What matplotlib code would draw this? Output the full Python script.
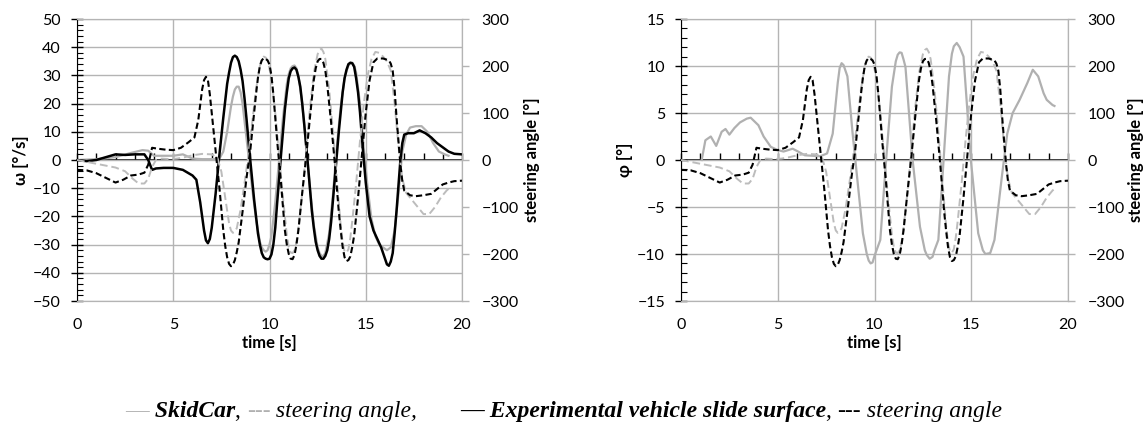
import matplotlib
matplotlib.use("Agg")
import matplotlib.pyplot as plt
import numpy as np
from matplotlib.ticker import MultipleLocator

plt.rcParams['font.family'] = ['Lato', 'DejaVu Sans']

# ---- data ----
# experimental vehicle yaw rate [deg/s]
t_exp_w = [0, 0.5, 1.0, 1.5, 2.0, 2.5, 3.0, 3.5, 3.7, 3.9, 4.1, 4.5, 5.0, 5.5, 6.0, 6.2, 6.4, 6.6,
           6.7, 6.8, 6.9, 7.0, 7.2, 7.4, 7.6, 7.8, 7.9, 8.0, 8.1, 8.2, 8.3, 8.4, 8.5, 8.6, 8.7,
           8.8, 8.9, 9.0, 9.2, 9.3, 9.4, 9.5, 9.6, 9.7, 9.8, 9.9, 10.0, 10.1, 10.2, 10.3, 10.4,
           10.6, 10.7, 10.8, 10.9, 11.0, 11.1, 11.2, 11.3, 11.4, 11.5, 11.6, 11.7, 11.8, 11.9,
           12.0, 12.1, 12.2, 12.3, 12.4, 12.5, 12.6, 12.7, 12.8, 12.9, 13.0, 13.1, 13.2, 13.3,
           13.4, 13.5, 13.6, 13.7, 13.8, 13.9, 14.0, 14.1, 14.2, 14.3, 14.4, 14.5, 14.6, 14.7,
           14.8, 14.9, 15.0, 15.2, 15.4, 15.6, 15.8, 16.0, 16.1, 16.2, 16.3, 16.4, 16.5, 16.6,
           16.7, 16.8, 16.9, 17.0, 17.2, 17.5, 17.8, 18.1, 18.4, 18.7, 19.0, 19.3, 19.6, 20.0]
exp_w = [0, -0.4, 0, 1, 2, 1.8, 2, 2, 0, -3.5, -3, -2.8, -2.8, -3.5, -5.5, -7, -15, -25,
         -28.5, -29.5, -28, -24, -12, 2, 15, 27, 31, 34.5, 36.5, 37, 36.5, 35, 32, 28, 22,
         15, 7.5, 0, -14, -20, -26, -30, -33, -34.5, -35, -35.2, -35, -33.5, -30, -24, -15,
         2, 10, 18, 24, 29, 31.5, 32.5, 32.8, 32, 29.5, 26, 20, 13, 5.5,
         -2, -10, -18, -24, -29, -32, -34, -35, -35, -34, -32, -28, -22, -14,
         -6, 2, 10, 17, 24, 29, 32, 34, 34.5, 34.3, 33, 29, 24, 17,
         8, 0, -8, -20, -25, -28, -31, -35, -37, -37.5, -36, -33, -26, -18,
         -9, 0, 6, 9, 9.5, 9.5, 10.5, 9.5, 8, 6, 4.5, 3, 2.2, 2]

# SkidCar yaw rate [deg/s]
t_skid_w = [0, 1.0, 2.0, 2.8, 3.4, 3.7, 4.0, 4.5, 5.0, 5.5, 6.0, 6.5, 7.0, 7.4, 7.6, 7.8, 8.0,
            8.1, 8.2, 8.3, 8.4, 8.5, 8.6, 8.7, 8.9, 9.1, 9.3, 9.5, 9.6, 9.7, 9.8, 9.9, 10.0,
            10.1, 10.3, 10.5, 10.7, 10.9, 11.0, 11.1, 11.2, 11.3, 11.4, 11.5, 11.7, 11.9,
            12.1, 12.3, 12.5, 12.6, 12.7, 12.8, 12.9, 13.1, 13.3, 13.5, 13.7, 13.9, 14.0,
            14.1, 14.2, 14.3, 14.4, 14.5, 14.7, 14.9, 15.1, 15.3, 15.5, 15.7, 15.9, 16.1,
            16.3, 16.5, 16.7, 16.9, 17.1, 17.3, 17.6, 17.9, 18.2, 18.5, 18.8, 19.1, 19.3]
skid_w = [0, 0.3, 1, 2.5, 3.5, 3.3, 1.5, 1.5, 1.5, 2, 0.5, 0.3, 0.3, 0.5, 3, 10, 19,
          22.5, 25, 26, 26, 24, 20, 14, 2, -10, -21, -29, -31, -32, -32.5, -32, -30,
          -27, -15, 0, 15, 27, 30.5, 32.5, 33.3, 33.5, 32.5, 30, 20, 5,
          -10, -23, -31, -33, -34, -34, -33, -26, -12, 5, 19, 29, 31.5,
          33.5, 34.3, 34.5, 33.5, 31, 20, 4, -10, -21, -27, -30, -31, -32,
          -31, -25, -12, 3, 9, 11.5, 12, 12, 10, 6, 3, 2, 1.5]

# SkidCar roll angle [deg]
t_skid_phi = [1.07, 1.26, 1.54, 1.82, 2.1, 2.3, 2.5, 2.76, 3.05, 3.4, 3.6, 4.0, 4.27, 4.64, 5.0,
              5.3, 5.77, 6.05, 6.4, 7.2, 7.55, 7.84, 8.1, 8.2, 8.3, 8.4, 8.6, 8.87, 9.15, 9.4,
              9.6, 9.7, 9.8, 9.9, 10.0, 10.3, 10.6, 10.9, 11.1, 11.2, 11.3, 11.4, 11.5, 11.6,
              11.97, 12.35, 12.6, 12.7, 12.85, 13.0, 13.1, 13.3, 13.57, 13.85, 14.0, 14.1,
              14.25, 14.4, 14.6, 14.98, 15.36, 15.6, 15.73, 15.98, 16.2, 16.58, 16.86, 17.14,
              17.5, 17.9, 18.18, 18.46, 18.74, 18.9, 19.2, 19.3]
skid_phi = [0, 2.1, 2.5, 1.5, 3.0, 3.3, 2.7, 3.4, 4.0, 4.4, 4.5, 3.7, 2.5, 1.4, 1.06,
            0.9, 1.2, 0.9, 0.5, 0.4, 0.7, 2.8, 8.2, 9.8, 10.3, 10.1, 8.9, 2.8, -2.8, -7.8,
            -10.0, -10.7, -11, -10.9, -10.2, -8.5, 0, 7.8, 10.5, 11.2, 11.45, 11.4, 10.7, 9.9,
            0, -7.1, -9.6, -10.1, -10.5, -10.3, -9.6, -8.5, 0, 8.9, 11.3, 12.1,
            12.45, 12.0, 11, 0, -7.8, -9.6, -10, -9.9, -8.5, -1.8, 2.8, 5.0,
            6.4, 8.2, 9.6, 8.9, 7.1, 6.4, 5.85, 5.75]

# steering angle, experimental vehicle [deg]
t_steer_exp = [0, 0.5, 1.0, 1.5, 2.0, 2.4, 2.8, 3.2, 3.5, 3.7, 3.9, 4.2, 4.6, 5.0, 5.4, 5.8, 6.1,
               6.3, 6.5, 6.6, 6.7, 6.8, 6.9, 7.0, 7.2, 7.4, 7.6, 7.7, 7.8, 7.9, 8.0, 8.1, 8.2,
               8.3, 8.4, 8.6, 8.8, 9.0, 9.2, 9.3, 9.4, 9.5, 9.6, 9.7, 9.8, 9.9, 10.0, 10.1, 10.2,
               10.4, 10.6, 10.8, 10.9, 11.0, 11.1, 11.2, 11.3, 11.4, 11.5, 11.7, 11.9, 12.1,
               12.3, 12.4, 12.5, 12.6, 12.7, 12.8, 12.9, 13.0, 13.2, 13.4, 13.6, 13.7, 13.8,
               13.9, 14.0, 14.1, 14.2, 14.3, 14.4, 14.6, 14.8, 15.0, 15.2, 15.4, 15.6, 15.9,
               16.2, 16.3, 16.4, 16.5, 16.6, 16.7, 16.8, 16.9, 17.0, 17.3, 17.6, 18.0, 18.4,
               18.7, 19.0, 19.3, 19.6, 20.0]
steer_exp = [-21, -22, -28, -38, -48, -42, -33, -31, -27, -10, 26, 24, 22, 21, 26, 38, 48,
             85, 150, 170, 177, 170, 140, 100, 20, -60, -150, -183, -207, -221, -226, -223, -213,
             -196, -175, -110, -40, 20, 100, 140, 175, 200, 212, 217, 215, 212, 203, 180, 140,
             40, -50, -150, -180, -200, -210, -211, -202, -180, -150, -70, 5, 90,
             170, 195, 210, 215, 215, 207, 190, 160, 80, -10, -110, -150, -185,
             -207, -215, -213, -205, -185, -160, -80, 10, 100, 170, 208, 216, 216,
             212, 205, 190, 150, 90, 40, -10, -45, -65, -75, -77, -75, -72,
             -62, -52, -48, -45, -44]

# steering angle, SkidCar [deg]
t_steer_skid = [0, 0.5, 1.0, 1.5, 2.0, 2.5, 2.9, 3.2, 3.5, 3.7, 3.9, 4.1, 4.4, 4.8, 5.2, 5.6, 6.0,
                6.5, 7.0, 7.3, 7.5, 7.7, 7.9, 8.0, 8.1, 8.2, 8.3, 8.5, 8.7, 8.9, 9.1, 9.3, 9.5,
                9.6, 9.7, 9.8, 9.9, 10.1, 10.3, 10.5, 10.7, 10.9, 11.0, 11.1, 11.2, 11.3, 11.4,
                11.5, 11.7, 11.9, 12.1, 12.3, 12.5, 12.6, 12.7, 12.8, 12.9, 13.1, 13.3, 13.5,
                13.7, 13.8, 13.9, 14.0, 14.1, 14.2, 14.3, 14.5, 14.7, 14.9, 15.1, 15.3, 15.5,
                15.7, 15.9, 16.1, 16.3, 16.5, 16.7, 16.9, 17.1, 17.4, 17.7, 18.0, 18.3, 18.6,
                18.9, 19.2, 19.4]
steer_skid = [0, -4, -8, -12, -16, -24, -40, -50, -50, -40, -15, 0, 3, 2, 3, 6, 10,
              13, 12, 4, -25, -80, -135, -150, -155, -152, -145, -105, -50, 10, 80, 150, 200,
              215, 220, 218, 212, 175, 100, 10, -80, -160, -185, -197, -198, -192, -175,
              -145, -70, 20, 110, 185, 225, 234, 237, 230, 215, 150, 60, -40,
              -140, -175, -195, -197, -190, -165, -130, -50, 40, 120, 180, 215, 230,
              228, 220, 210, 190, 120, 30, -40, -70, -85, -100, -115, -115, -100,
              -80, -65, -58]

GRAY = '#b0b0b0'
GRAY_D = '#bcbcbc'
GRID = '#b4b4b4'
W, H = 1143, 423

fig = plt.figure(figsize=(W / 100, H / 100), dpi=100)


def make_panel(left_px, width_px, ylim, ystep, yminor, ylabel, right_lab):
    ax = fig.add_axes([left_px / W, 1 - 301 / H, width_px / W, 282 / H])
    ax.set_xlim(0, 20)
    ax.set_ylim(-ylim, ylim)
    ax.set_xticks(np.arange(0, 21, 5))
    ax.set_yticks(np.arange(-ylim, ylim + 1, ystep))
    ax.yaxis.set_minor_locator(MultipleLocator(yminor))
    ax.grid(True, color=GRID, lw=1)
    ax.tick_params(axis='x', length=0, pad=12, labelsize=11.5)
    ax.tick_params(axis='y', which='major', direction='inout', length=9, width=1,
                   pad=7, labelsize=11.5)
    ax.tick_params(axis='y', which='minor', direction='in', length=4, width=0.8)
    for s in ['top', 'bottom', 'right']:
        ax.spines[s].set_color(GRID)
    ax.spines['left'].set_color('black')
    ax.set_ylabel(ylabel, fontsize=12, fontweight='bold')
    ax.yaxis.set_label_coords(-48 / width_px, 0.5)
    ax.set_xlabel('time [s]', fontsize=12, fontweight='bold')
    ax.xaxis.set_label_coords(0.5, -0.12)

    # zero line with small ticks every second
    zero = ax.secondary_xaxis(0.5)
    zero.set_xticks(np.arange(0, 21, 1), labels=[])
    zero.tick_params(direction='out', length=5, width=1, color='black')
    for s in zero.spines.values():
        s.set_color('black')
        s.set_linewidth(1.2)

    tw = ax.twinx()
    tw.set_ylim(-300, 300)
    tw.set_yticks(np.arange(-300, 301, 100))
    tw.tick_params(axis='y', direction='out', length=5, width=1, color=GRID,
                   pad=9, labelsize=11.5)
    tw.spines['left'].set_visible(False)
    for s in ['top', 'bottom', 'right']:
        tw.spines[s].set_color(GRID)
    tw.set_ylabel('steering angle [°]', fontsize=12, fontweight='bold')
    tw.yaxis.set_label_coords(right_lab, 0.5)
    return ax, tw


# left panel: yaw rate
ax1, tw1 = make_panel(77, 385, 50, 10, 2, 'ω [°/s]', 1.161)
ax1.plot(t_skid_w, skid_w, color=GRAY, lw=1.6)
ax1.plot(t_exp_w, exp_w, color='black', lw=1.8)
tw1.plot(t_steer_skid, steer_skid, color=GRAY_D, lw=1.4, dashes=(4, 2))
tw1.plot(t_steer_exp, steer_exp, color='black', lw=1.5, dashes=(3, 1.6))

# right panel: roll angle
ax2, tw2 = make_panel(681, 387, 15, 5, 1, 'φ [°]', 1.155)
ax2.plot(t_skid_phi, skid_phi, color=GRAY, lw=1.6)
tw2.plot(t_steer_skid, steer_skid, color=GRAY_D, lw=1.4, dashes=(4, 2))
tw2.plot(t_steer_exp, steer_exp, color='black', lw=1.5, dashes=(3, 1.6))

# legend line under the panels, pieces placed one after another
serif = 'Liberation Serif'
y_leg = 1 - 417 / H
groups = [
    (125, [('—', GRAY, 'normal', 'normal'),
           (' SkidCar', 'black', 'bold', 'italic'),
           (', ', 'black', 'normal', 'normal'),
           ('---', GRAY, 'normal', 'normal'),
           (' steering angle,', 'black', 'normal', 'italic')]),
    (460, [('—', 'black', 'bold', 'normal'),
           (' Experimental vehicle slide surface', 'black', 'bold', 'italic'),
           (', ', 'black', 'normal', 'normal'),
           ('---', 'black', 'normal', 'normal'),
           (' steering angle', 'black', 'normal', 'italic')]),
]
renderer = fig.canvas.get_renderer()
for x0, parts in groups:
    x = x0
    for s, c, w, st in parts:
        t = fig.text(x / W, y_leg, s, color=c, fontweight=w, fontstyle=st, family=serif,
                     fontsize=17, ha='left', va='baseline')
        x += t.get_window_extent(renderer).width

fig.savefig('out.png', dpi=100)
